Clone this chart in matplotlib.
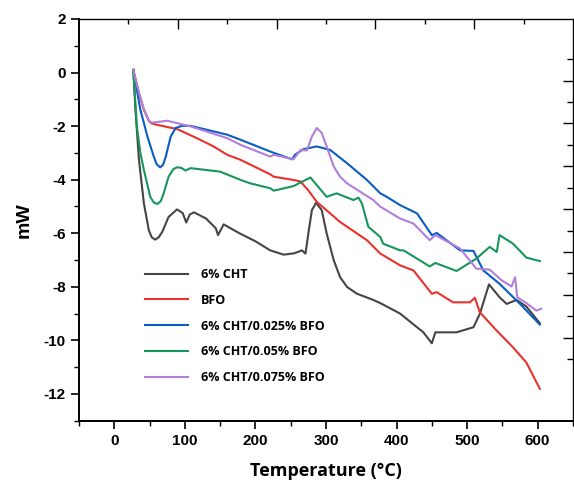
import numpy as np
import matplotlib
matplotlib.use('Agg')
import matplotlib.pyplot as plt
from matplotlib.ticker import MultipleLocator, FixedLocator

plt.rcParams['font.family'] = 'Liberation Sans'
plt.rcParams['font.weight'] = 'bold'
plt.rcParams['axes.unicode_minus'] = False

# temperature (C) / heat flow (mW)
cht_t = [27, 30, 35, 42, 49, 53, 58, 63, 68, 77, 89, 97, 102, 107, 113, 130, 144, 147, 155, 178, 200, 221, 240, 255,
         266, 271, 275, 280, 286, 294, 301, 311, 320, 330, 344, 367, 377, 405, 438, 450, 455, 485, 509, 518, 531, 546,
         556, 570, 584, 603]
cht_v = [0.1, -1.39, -3.26, -4.89, -5.89, -6.15, -6.24, -6.15, -5.95, -5.39, -5.11, -5.25, -5.6, -5.3, -5.22, -5.45,
         -5.82, -6.07, -5.67, -6.01, -6.3, -6.64, -6.8, -6.75, -6.64, -6.76, -6.01, -5.14, -4.86, -5.14, -6.01, -7.01,
         -7.64, -8.01, -8.26, -8.49, -8.61, -9.0, -9.7, -10.11, -9.7, -9.7, -9.51, -9.01, -7.91, -8.39, -8.64, -8.49,
         -8.74, -9.36]

bfo_t = [27, 35, 42, 49, 53, 60, 89, 117, 140, 160, 179, 221, 226, 254, 264, 275, 287, 320, 358, 377, 405, 424, 450,
         457, 480, 504, 511, 518, 542, 565, 584, 596, 603]
bfo_v = [0.1, -0.76, -1.39, -1.8, -1.9, -1.95, -2.11, -2.45, -2.75, -3.07, -3.26, -3.8, -3.89, -4.01, -4.07, -4.4,
         -4.83, -5.58, -6.26, -6.76, -7.2, -7.39, -8.26, -8.2, -8.58, -8.58, -8.41, -8.95, -9.64, -10.26, -10.83, -11.45,
         -11.81]

b025_t = [27, 31, 37, 47, 56, 60, 65, 69, 73, 80, 87, 96, 108, 160, 179, 221, 252, 256, 268, 287, 306, 330, 358, 377,
          386, 405, 429, 450, 457, 490, 509, 523, 546, 575, 603]
b025_v = [0.1, -0.5, -1.39, -2.39, -3.14, -3.42, -3.54, -3.45, -3.14, -2.39, -2.07, -1.99, -1.99, -2.32, -2.51, -2.95,
          -3.24, -3.07, -2.86, -2.76, -2.89, -3.39, -4.01, -4.51, -4.64, -4.95, -5.26, -6.07, -5.99, -6.64, -6.66, -7.39,
          -7.89, -8.64, -9.41]

b05_t = [27, 32, 37, 42, 51, 56, 61, 66, 70, 77, 84, 89, 95, 101, 108, 150, 179, 193, 221, 226, 254, 268, 278, 290,
         301, 315, 339, 346, 351, 360, 377, 381, 405, 410, 447, 455, 485, 513, 532, 542, 546, 565, 584, 603]
b05_v = [0.1, -2.01, -3.0, -3.64, -4.64, -4.85, -4.91, -4.8, -4.51, -3.89, -3.6, -3.54, -3.56, -3.66, -3.57, -3.7,
         -4.01, -4.14, -4.32, -4.41, -4.24, -4.05, -3.92, -4.3, -4.64, -4.51, -4.76, -4.67, -4.89, -5.76, -6.14, -6.39,
         -6.64, -6.64, -7.24, -7.11, -7.41, -6.95, -6.51, -6.7, -6.07, -6.39, -6.91, -7.04]

b075_t = [27, 35, 42, 49, 53, 60, 75, 108, 160, 179, 221, 226, 254, 264, 273, 280, 287, 294, 301, 311, 320, 330, 367,
          377, 405, 424, 447, 455, 490, 513, 532, 549, 563, 568, 571, 584, 598, 605]
b075_v = [0.1, -0.76, -1.39, -1.8, -1.87, -1.85, -1.8, -2.01, -2.45, -2.7, -3.14, -3.07, -3.24, -2.89, -2.91, -2.39,
          -2.07, -2.26, -2.76, -3.51, -3.89, -4.14, -4.76, -5.01, -5.45, -5.64, -6.26, -6.07, -6.57, -7.32, -7.36, -7.76,
          -7.99, -7.64, -8.39, -8.61, -8.89, -8.82]

labels = ['6% CHT', 'BFO', '6% CHT/0.025% BFO', '6% CHT/0.05% BFO', '6% CHT/0.075% BFO']
colors = ['#454545', '#e8322c', '#0b5cc5', '#16965a', '#b07fdc']
series = [(cht_t, cht_v), (bfo_t, bfo_v), (b025_t, b025_v), (b05_t, b05_v), (b075_t, b075_v)]

fig = plt.figure(figsize=(5.74, 4.83), dpi=100)
ax = fig.add_axes([0.1376, 0.129, 0.8606, 0.8317])

for (t, v), c, lab in zip(series, colors, labels):
    ax.plot(t, v, color=c, lw=1.5, label=lab, solid_joinstyle='round')

ax.set_xlim(-50, 650)
ax.set_ylim(-13, 2)
ax.set_xticks(range(0, 601, 100))
ax.xaxis.set_minor_locator(MultipleLocator(50))
ax.yaxis.set_major_locator(MultipleLocator(2))
ax.yaxis.set_minor_locator(MultipleLocator(1))
ax.tick_params(axis='both', which='major', direction='out', length=6, width=1.2, labelsize=11)
ax.tick_params(axis='both', which='minor', direction='out', length=3.5, width=1.0)
ax.spines['left'].set_linewidth(1.4)
ax.spines['bottom'].set_linewidth(1.4)
ax.spines['top'].set_linewidth(1.0)
ax.spines['right'].set_linewidth(1.0)

# top and right ticks (inside, no labels)
ax_top = ax.twiny()
ax_top.set_xlim(ax.get_xlim())
ax_top.xaxis.set_major_locator(FixedLocator([90, 230, 370, 510]))
ax_top.xaxis.set_minor_locator(FixedLocator([20, 160, 300, 440, 580]))
ax_top.tick_params(axis='x', which='both', direction='in', labeltop=False, width=1.0)
ax_top.tick_params(axis='x', which='major', length=7)
ax_top.tick_params(axis='x', which='minor', length=3.5)

ax_right = ax.twinx()
ax_right.set_ylim(ax.get_ylim())
ax_right.yaxis.set_major_locator(FixedLocator([-0.3, -1.9, -3.5, -5.1, -6.7, -8.3, -9.9]))
ax_right.yaxis.set_minor_locator(FixedLocator([0.5, -1.1, -2.7, -4.3, -5.9, -7.5, -9.1, -10.7]))
ax_right.tick_params(axis='y', which='both', direction='in', labelright=False, width=1.0)
ax_right.tick_params(axis='y', which='major', length=7)
ax_right.tick_params(axis='y', which='minor', length=4)
for a in (ax_top, ax_right):
    for s in a.spines.values():
        s.set_visible(False)

ax.set_xlabel('Temperature (°C)', fontsize=13, fontweight='bold', family='Open Sans', labelpad=10)
ax.set_ylabel('mW', fontsize=14, fontweight='bold', labelpad=8)

leg = ax.legend(loc='upper left', bbox_to_anchor=(0.11, 0.408), frameon=False,
                prop={'family': 'Open Sans', 'weight': 'bold', 'size': 9},
                handlelength=3.5, handletextpad=1.0, labelspacing=1.02)

plt.savefig('out.png', dpi=100)
